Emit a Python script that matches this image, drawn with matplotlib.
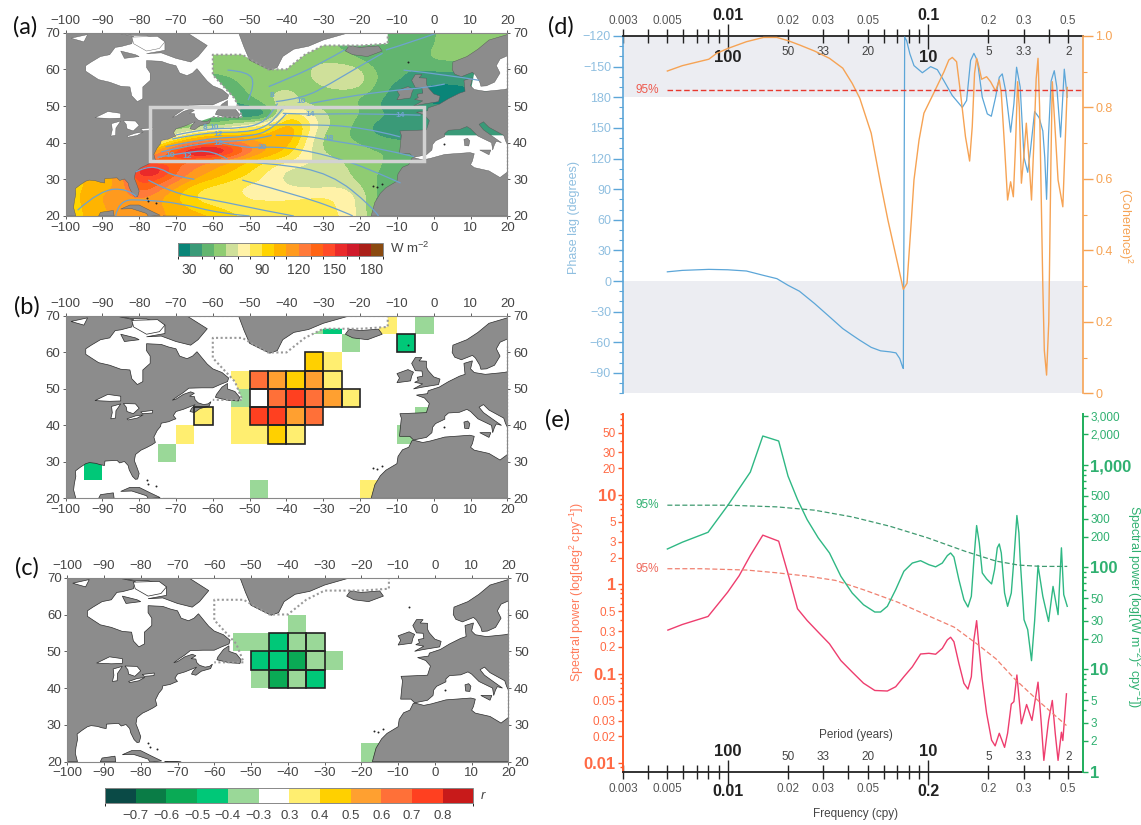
import numpy as np
import matplotlib
matplotlib.use("Agg")
import matplotlib.pyplot as plt
from matplotlib.cm import ScalarMappable
from matplotlib.colors import BoundaryNorm, ListedColormap
from matplotlib.patches import PathPatch, Polygon, Rectangle
from matplotlib.path import Path
from matplotlib.ticker import FixedFormatter, FixedLocator, NullFormatter

plt.rcParams["font.family"] = ["Liberation Sans", "DejaVu Sans"]
plt.rcParams["mathtext.default"] = "regular"

W, H = 1141, 825
LAND = "#8c8c8c"

# ---- map outlines (lon, lat) ----
NORTH_AMERICA = [(-100, 20), (-97.2, 20), (-97.8, 22.3), (-97.6, 24), (-97.2, 26), (-97.3, 27.5), (-96, 28.5),
                 (-94.5, 29.5), (-93.5, 29.8), (-91.8, 29.6), (-90.5, 29.2), (-89.4, 29), (-89.3, 30.2), (-88, 30.3),
                 (-86, 30.4), (-85.3, 29.7), (-84, 30.1), (-83, 29), (-82.7, 27.8), (-81.8, 26), (-81, 25.2),
                 (-80.4, 25.3), (-80, 26.8), (-80.6, 28.5), (-81.3, 30.3), (-81, 32), (-79.5, 33.2), (-78, 33.9),
                 (-76.5, 34.7), (-75.6, 35.3), (-76, 36.8), (-75.5, 37.8), (-75.1, 38.6), (-74.2, 39.7), (-74, 40.6),
                 (-72, 41), (-70.6, 41.6), (-70, 41.8), (-70.7, 42.7), (-70, 43.8), (-68, 44.4), (-67, 44.8),
                 (-66, 45.2), (-64.8, 45.7), (-65.8, 44.6), (-66.2, 43.8), (-65, 43.5), (-63.5, 44.6), (-61, 45.3),
                 (-60.5, 46.5), (-61.3, 45.9), (-62.5, 45.7), (-64, 46.2), (-64.8, 47), (-65, 47.9), (-66.3, 48),
                 (-65, 48.8), (-66, 49.2), (-68, 48.5), (-70, 47.2), (-71, 46.9), (-69.5, 48), (-68, 49),
                 (-66.5, 50.2), (-63, 50.3), (-60, 50.3), (-58, 51.2), (-56, 52), (-55.7, 53), (-57.5, 54.5),
                 (-60, 55.5), (-61.5, 56.8), (-62.5, 58), (-64.3, 60.2), (-65.5, 59), (-67, 58.3), (-69, 59), (-70, 61),
                 (-72, 61.5), (-74, 62.2), (-78, 62.4), (-78, 60.5), (-77, 59), (-77, 57), (-79, 55.2), (-79, 52),
                 (-80.5, 51.2), (-82, 52.8), (-82.5, 55.2), (-85, 55.4), (-88, 56.5), (-91, 57.2), (-93, 58.5),
                 (-94.5, 59.5), (-94.5, 61), (-93, 62), (-90.5, 63.5), (-88, 64), (-86.5, 66), (-85, 66.2), (-82, 67),
                 (-81.5, 69), (-85, 69.7), (-86, 70), (-100, 70)]
BAFFIN = [(-86, 70), (-67, 70), (-61.5, 66.5), (-64, 63.5), (-66, 62), (-70, 63), (-74, 64.5), (-78, 64.3), (-73, 65.2),
          (-73, 67.5), (-78, 69.2), (-82, 69.3)]
SOUTHAMPTON = [(-85, 65), (-81, 64), (-80, 63.5), (-84, 63)]
NEWFOUNDLAND = [(-59.3, 47.7), (-56, 46.9), (-53, 46.7), (-52.7, 47.7), (-54, 49.3), (-56, 50), (-56, 51.5),
                (-57.5, 50.5), (-59, 48.5)]
GREENLAND = [(-53, 70), (-51.5, 66), (-50, 62.5), (-47, 61), (-44.5, 59.8), (-42.5, 60.5), (-41, 63.5), (-38, 65.5),
             (-34, 66.3), (-30, 68), (-23, 70)]
ICELAND = [(-24, 65), (-22, 64), (-18, 63.5), (-14, 65), (-15, 66.4), (-20, 66), (-23, 66.4)]
IRELAND = [(-10, 51.7), (-6.3, 52.2), (-6, 53.5), (-5.5, 54.6), (-7, 55.3), (-10, 54.2), (-9.3, 53)]
BRITAIN = [(-5.5, 50), (-3, 50.5), (1.3, 51.2), (1.7, 52.7), (0, 53.3), (-1.5, 55), (-2, 56), (-2, 57.6), (-4, 57.7),
           (-3.2, 58.6), (-5, 58.6), (-6, 57), (-5, 55), (-3.2, 54.9), (-3, 53.5), (-4.5, 53.2), (-4.2, 52.3),
           (-5.2, 51.8), (-3, 51.4)]
EUROPE = [(-9.3, 37), (-8.8, 42), (-9.2, 43.2), (-2, 43.5), (-1.2, 46), (-2.5, 47.5), (-4.7, 48.3), (-1.7, 48.7),
          (-1.5, 49.5), (1.5, 50.5), (4, 52), (7, 53.5), (8.5, 54), (8.2, 57), (10.5, 57.7), (10, 55.5), (11, 54.5),
          (14, 54), (19, 54.5), (20, 54.7), (20, 39.5), (19.5, 40.5), (19, 42), (15, 44.2), (13.5, 45.7), (12.3, 45),
          (13.5, 43.5), (16, 41.7), (18.4, 40), (17, 40.4), (16.5, 39.5), (16, 38), (15.7, 40), (12, 41.8), (10, 43.8),
          (9, 44.4), (7, 43.6), (4, 43.4), (3, 42.5), (3, 41.7), (0.5, 40.5), (-0.3, 39.5), (-0.5, 38), (-2, 36.7),
          (-5.5, 36), (-6.5, 37)]
SCANDINAVIA = [(20, 69.5), (15, 68), (12, 65.5), (9, 63.5), (5.2, 62), (5, 60), (5.7, 58.7), (7.5, 58), (10.5, 59.2),
               (11.3, 58.5), (12.5, 56.5), (12.8, 55.4), (14.3, 55.5), (16.5, 56.5), (18, 59), (17, 61), (18, 62.8),
               (20, 63.7)]
AFRICA = [(-17, 20), (-16, 23.7), (-14.5, 26.2), (-13, 27.7), (-10, 29.5), (-9.7, 31.5), (-8.5, 33.3), (-6.8, 34),
          (-5.9, 35.8), (-5.3, 35.9), (-3, 35.3), (-1, 35.7), (3, 36.8), (9.8, 37.3), (11, 37), (10.5, 35), (10, 34),
          (11, 33.2), (15, 32.3), (18, 30.5), (20, 32), (20, 20)]
CUBA = [(-85, 21.9), (-82.5, 23), (-80, 23), (-77, 21.5), (-74.3, 20.2), (-77.5, 19.9), (-78, 20.7), (-82, 22)]
YUCATAN = [(-91, 20), (-90.5, 21), (-87, 21.5), (-86.8, 20)]
HISPANIOLA = [(-73.5, 20), (-72.5, 19.9), (-69, 19.9), (-70, 20)]
SARDINIA = [(8.4, 39.2), (9.5, 39.1), (9.8, 40.5), (9.2, 41.2), (8.2, 40.9)]
SICILY = [(12.5, 38), (15.5, 38), (15, 36.7)]
LAND_SHAPES = [NORTH_AMERICA, BAFFIN, SOUTHAMPTON, NEWFOUNDLAND, GREENLAND, ICELAND, IRELAND, BRITAIN, EUROPE,
               SCANDINAVIA, AFRICA, CUBA, YUCATAN, HISPANIOLA, SARDINIA, SICILY]
LAKES = [[(-92, 46.8), (-88.5, 48.5), (-85, 48), (-85, 46.7), (-88, 46.6), (-90, 46.7)],
         [(-87.7, 41.8), (-87.3, 43.5), (-87.5, 45.2), (-85, 45.9), (-86.3, 44), (-86.4, 42)],
         [(-84.3, 46), (-81, 45.9), (-80, 44.7), (-81.6, 43.2), (-83.3, 43.8), (-83.5, 45)],
         [(-83.3, 41.8), (-81, 42.6), (-78.9, 42.9), (-80.5, 42), (-83, 41.5)],
         [(-79.6, 43.7), (-76.3, 44.1), (-76.4, 43.4), (-79, 43.2)],
         [(-98.5, 68.5), (-94, 69.5), (-95, 67.5)],
         [(-82, 68.8), (-75, 69), (-73, 67.5), (-74.5, 65.7), (-78, 65), (-81.5, 67)]]
NO_DATA = [[(-100, 70), (-12.5, 70), (-12.5, 67), (-20, 66.5), (-30, 66.5), (-35, 64), (-40, 60), (-45, 60), (-52, 64),
            (-60, 64), (-60, 58.5), (-54, 52), (-52, 47), (-60, 47), (-66, 45), (-100, 45)],
           [(-5.5, 35.5), (-5.5, 36.5), (0, 42), (20, 42), (20, 30), (0, 30)],
           [(10, 54), (20, 54), (20, 66), (14, 62), (11, 59)]]
DOTTED = [(-65, 70), (-12.5, 70), (-12.5, 67), (-20, 66.5), (-30, 66.5), (-35, 64), (-40, 60), (-45, 60), (-52, 64),
          (-60, 64), (-60, 58.5), (-54, 52), (-52, 47), (-60, 47)]
ISLET_LON = [-16.5, -15.5, -14, -78, -77.5, -75.5, -7, 2.8]
ISLET_LAT = [28.3, 28, 28.8, 25, 24, 23.5, 62, 39.6]

# ---- panel (a) heat flux grid, W m-2 ----
FIELD_LON = np.arange(-100, 21, 5)
FIELD_LAT = np.arange(20, 70.1, 2.5)
FIELD = np.array([
    [95, 100, 108, 115, 115, 112, 108, 105, 100, 92, 88, 88, 86, 85, 85, 80, 68, 45, 35, 30, 30, 30, 30, 30, 30],
    [95, 100, 110, 114, 114, 112, 106, 95, 90, 86, 84, 84, 84, 84, 84, 78, 68, 45, 35, 30, 30, 30, 30, 30, 30],
    [95, 102, 112, 115, 122, 112, 100, 88, 85, 85, 78, 78, 78, 80, 82, 78, 68, 45, 40, 35, 30, 30, 30, 30, 30],
    [95, 100, 108, 112, 140, 125, 108, 92, 85, 82, 76, 74, 72, 70, 70, 72, 62, 48, 40, 35, 30, 30, 30, 30, 30],
    [95, 100, 105, 112, 150, 140, 125, 110, 100, 92, 85, 76, 67, 64, 63, 63, 58, 48, 42, 36, 30, 30, 30, 30, 30],
    [95, 100, 105, 115, 165, 165, 130, 120, 110, 102, 92, 80, 68, 65, 63, 62, 57, 50, 44, 38, 30, 30, 30, 30, 30],
    [95, 100, 105, 110, 130, 130, 135, 125, 118, 108, 98, 90, 82, 74, 66, 60, 56, 52, 45, 40, 30, 30, 30, 30, 30],
    [95, 95, 95, 100, 110, 115, 155, 176, 178, 155, 125, 110, 98, 75, 58, 54, 52, 50, 50, 48, 40, 30, 30, 30, 30],
    [60, 60, 60, 60, 65, 75, 100, 122, 132, 126, 116, 106, 108, 80, 56, 52, 50, 46, 42, 38, 30, 30, 30, 30, 30],
    [50, 50, 50, 50, 50, 55, 65, 80, 90, 96, 100, 100, 115, 85, 58, 52, 46, 36, 35, 35, 30, 30, 30, 30, 30],
    [50, 50, 50, 50, 50, 50, 50, 50, 50, 58, 72, 82, 105, 90, 62, 55, 46, 36, 34, 32, 30, 30, 30, 30, 30],
    [40, 40, 40, 40, 40, 40, 38, 35, 35, 38, 22, 30, 90, 78, 60, 56, 50, 44, 36, 38, 36, 30, 30, 30, 30],
    [40, 40, 40, 40, 40, 40, 38, 35, 35, 35, 40, 52, 72, 62, 57, 55, 50, 40, 30, 30, 30, 30, 30, 30, 30],
    [45, 45, 45, 45, 45, 45, 45, 45, 45, 45, 50, 58, 70, 52, 52, 52, 50, 42, 36, 32, 28, 27, 30, 35, 35],
    [45, 45, 45, 45, 45, 45, 45, 45, 45, 47, 52, 56, 58, 55, 60, 65, 62, 45, 36, 30, 27, 27, 30, 30, 30],
    [47, 47, 47, 47, 47, 47, 47, 47, 47, 50, 53, 55, 57, 57, 66, 68, 66, 48, 42, 36, 35, 35, 35, 35, 35],
    [53, 53, 53, 53, 53, 53, 53, 53, 53, 53, 53, 52, 55, 58, 65, 66, 62, 46, 42, 40, 42, 42, 42, 42, 42],
    [53, 53, 53, 53, 53, 53, 53, 53, 53, 53, 53, 53, 54, 56, 58, 56, 50, 42, 42, 45, 52, 52, 52, 52, 52],
    [50, 50, 50, 50, 50, 50, 50, 50, 50, 50, 50, 50, 50, 50, 52, 50, 45, 40, 40, 45, 52, 55, 55, 55, 55],
    [50, 50, 50, 50, 50, 50, 50, 50, 50, 50, 50, 50, 50, 50, 50, 50, 45, 40, 40, 42, 50, 55, 55, 55, 55],
    [50, 50, 50, 50, 50, 50, 50, 50, 50, 50, 50, 50, 50, 50, 50, 50, 45, 40, 40, 42, 50, 55, 55, 55, 55],
])
FLUX_LEVELS = np.arange(20, 191, 10)
FLUX_COLORS = ["#0a8578", "#3a9a78", "#62b56f", "#8fcc72", "#cfe09a", "#fff2a8", "#ffe84f", "#ffd400", "#ffb400",
               "#ff9a1e", "#ff7a3a", "#ff6414", "#ff4a28", "#ea2a2a", "#cf1a2a", "#aa1f18", "#8a4a10"]
FLUX_TICKS = [30, 60, 90, 120, 150, 180]

SST_LINES = [
    [(-44.8, 55.3), (-38.2, 58), (-30.7, 61.6), (-24.2, 65.3)],
    [(-42.9, 51.2), (-35.4, 52.1), (-27.9, 56.2), (-20.4, 60.7), (-13.9, 64.4)],
    [(-33.5, 50.7), (-24.2, 52.5), (-10, 54.4), (-2, 55), (3, 56)],
    [(-41, 48), (-33.5, 47.7), (-19.5, 48), (-3.6, 47.5)],
    [(-44.8, 44.8), (-36.3, 45), (-19.5, 44.4), (-9.2, 41.6)],
    [(-42.9, 42), (-35.4, 42), (-28.8, 40.7), (-14.8, 38.5), (-5.4, 36.2)],
    [(-57.9, 40), (-50.4, 38.5), (-46.6, 38.9), (-37.3, 38.5), (-24.2, 35.3), (-14.8, 31.6), (-9, 29)],
    [(-59.7, 35.3), (-42.9, 34.4), (-27.9, 31.6), (-16.7, 22.5), (-15, 20)],
    [(-52, 29.8), (-35.4, 25.3), (-23.2, 20.7), (-22, 20)],
    [(-77.5, 29.8), (-71, 26.2), (-59.7, 24.4), (-46.6, 21.6), (-38, 20)],
    [(-96.7, 21.6), (-90.6, 27.1), (-83, 27.5), (-80.8, 25.3)],
    [(-86.4, 20), (-85.5, 24.4), (-78.5, 24.4), (-69, 23.5), (-57.9, 20.7), (-50, 20)],
    [(-56, 59.8), (-50.4, 59.4), (-48.5, 56), (-50.4, 51.6)],
    [(-13, 65.3), (-7.3, 67), (1.1, 70)],
    [(-8.2, 59.8), (3.9, 58.5), (12.4, 57)],
    [(-70, 42.1), (-61.6, 43.9), (-52.2, 43.9), (-46.6, 45.3), (-43.8, 48.5), (-42.4, 50.7)],
    [(-71, 41), (-61.6, 42.9), (-51, 42.8), (-45.3, 44.4), (-42, 48), (-40.5, 50)],
    [(-72.8, 38.9), (-61.6, 41.2), (-50.4, 41.6), (-43.8, 43.5), (-40, 48)],
    [(-74, 37.5), (-62, 40.3), (-50, 40.5), (-44, 42)],
    [(-75, 36), (-68, 37.3), (-60, 38), (-56, 35.5)],
    [(-81, 32), (-78, 33.5), (-74, 33), (-71, 31), (-65, 30)],
]
SST_LABELS = [("8", -44, 52.8), ("10", -36, 51.2), ("14", -33.5, 47.6), ("14", -9, 47.4), ("18", -28.5, 41.1),
              ("20", -46.5, 38.6), ("8", -62, 44.2), ("10", -59.6, 44.2), ("12", -58.5, 42.1), ("12", -58.5, 39.8),
              ("10", -71.5, 36.5), ("12", -67, 36.2)]
BOX_LON = [-77, -2.6]
BOX_LAT = [35.1, 49.8]

# ---- panels (b) and (c), 5 degree correlation cells: lon, lat, r, outlined ----
R_LEVELS = [-0.8, -0.7, -0.6, -0.5, -0.4, -0.3, 0.3, 0.4, 0.5, 0.6, 0.7, 0.8, 0.9]
R_COLORS = ["#0a4a46", "#0a7c46", "#0aaa55", "#00c878", "#9ad898", "#ffffff", "#ffee70", "#ffd000", "#ffa030",
            "#ff7038", "#ff4020", "#c81a1a"]
R_TICKS = [-0.7, -0.6, -0.5, -0.4, -0.3, 0.3, 0.4, 0.5, 0.6, 0.7, 0.8]
CELLS_B = [(-95, 25, -0.45, 0), (-75, 30, -0.35, 0), (-70, 35, 0.35, 0), (-65, 40, 0.35, 1), (-55, 50, 0.35, 0),
           (-55, 45, -0.35, 0), (-55, 40, 0.35, 0), (-55, 35, 0.35, 0), (-50, 35, 0.35, 0), (-50, 50, 0.65, 1),
           (-45, 50, 0.55, 1), (-40, 50, 0.45, 1), (-35, 50, 0.55, 1), (-30, 50, 0.35, 1), (-50, 45, 0.2, 1),
           (-45, 45, 0.65, 1), (-40, 45, 0.75, 1), (-35, 45, 0.65, 1), (-30, 45, 0.55, 1), (-25, 45, 0.35, 1),
           (-50, 40, 0.75, 1), (-45, 40, 0.75, 1), (-40, 40, 0.55, 1), (-35, 40, 0.65, 1), (-45, 35, 0.45, 1),
           (-40, 35, 0.35, 1), (-35, 55, 0.45, 1), (-30, 55, 0.35, 0), (-25, 60, -0.35, 0), (-35, 65, -0.35, 0),
           (-30, 65, -0.45, 0), (-15, 65, 0.35, 0), (-5, 65, -0.35, 0), (-10, 60, -0.45, 1), (-5, 40, -0.35, 0),
           (-10, 35, -0.35, 0), (-50, 20, -0.35, 0), (-20, 20, 0.35, 0)]
CELLS_C = [(-40, 55, -0.35, 0), (-55, 50, -0.35, 0), (-50, 50, -0.35, 0), (-45, 50, -0.45, 1), (-40, 50, -0.35, 1),
           (-35, 50, -0.35, 1), (-50, 45, -0.45, 1), (-45, 45, -0.45, 1), (-40, 45, -0.55, 1), (-35, 45, -0.35, 1),
           (-30, 45, -0.35, 0), (-50, 40, -0.35, 0), (-45, 40, -0.55, 1), (-40, 40, -0.35, 1), (-35, 40, -0.45, 1),
           (-20, 20, -0.35, 0)]

# ---- panel (d) ----
PHASE_F = [0.005, 0.00594, 0.00805, 0.01, 0.0124, 0.0151, 0.0176, 0.02, 0.0228, 0.0271, 0.0322, 0.0375, 0.0418, 0.0456,
           0.052, 0.0579, 0.0645, 0.0691, 0.0722, 0.0745, 0.0752, 0.0758, 0.0764, 0.0781, 0.0811, 0.085, 0.0936, 0.1029,
           0.1112, 0.12, 0.132, 0.1481, 0.1556, 0.1629, 0.1692, 0.176, 0.1863, 0.1974, 0.2067, 0.2171, 0.2265, 0.2344,
           0.2435, 0.258, 0.2679, 0.2763, 0.288, 0.301, 0.314, 0.324, 0.34, 0.358, 0.3735, 0.382, 0.39, 0.399, 0.411,
           0.426, 0.4387, 0.458, 0.478, 0.4945]
PHASE = [9, 10.4, 11.4, 11, 9.8, 5.5, 2.3, -4.2, -10, -22, -35, -46.6, -53, -58, -65, -68.4, -69.4, -70.4, -76, -84,
         -85.7, 60, 239, 235.5, 222.5, 211, 204, 210, 207, 196, 181.7, 170, 176.8, 216, 223, 216, 180, 163.7, 161.4,
         180, 199.6, 202.9, 186.6, 145.8, 173.5, 209.4, 190, 121, 106.5, 128, 166, 160, 147, 121, 80, 144, 196, 206,
         190, 141, 207.5, 180]
COH_F = [0.005, 0.00594, 0.00805, 0.00878, 0.01, 0.0124, 0.0151, 0.0176, 0.02, 0.0228, 0.0271, 0.0322, 0.0375, 0.0418,
         0.0456, 0.052, 0.0579, 0.063, 0.0704, 0.0752, 0.0785, 0.0825, 0.085, 0.0901, 0.0953, 0.1066, 0.12, 0.1269,
         0.132, 0.1387, 0.1451, 0.1536, 0.1611, 0.166, 0.1705, 0.1746, 0.1792, 0.1849, 0.1958, 0.2049, 0.2171, 0.2265,
         0.2318, 0.2407, 0.2492, 0.258, 0.2662, 0.2728, 0.2795, 0.285, 0.292, 0.3, 0.309, 0.318, 0.328, 0.337, 0.346,
         0.3535, 0.36, 0.3735, 0.38, 0.39, 0.4, 0.41, 0.4165, 0.43, 0.445, 0.47, 0.4945]
COH = [0.902, 0.917, 0.935, 0.951, 0.965, 0.984, 0.996, 0.996, 0.987, 0.975, 0.958, 0.9375, 0.91, 0.8675, 0.826, 0.728,
       0.588, 0.485, 0.364, 0.291, 0.308, 0.485, 0.597, 0.709, 0.784, 0.84, 0.9, 0.933, 0.94, 0.928, 0.84, 0.718, 0.65,
       0.746, 0.896, 0.9375, 0.914, 0.879, 0.886, 0.872, 0.846, 0.877, 0.84, 0.69, 0.541, 0.592, 0.55, 0.69, 0.872, 0.8,
       0.588, 0.66, 0.756, 0.66, 0.541, 0.7, 0.88, 0.9375, 0.8, 0.3, 0.12, 0.051, 0.2, 0.65, 0.872, 0.74, 0.597, 0.522,
       0.856]
COH_95 = 0.85
FREQ_TICKS = [0.003, 0.004, 0.005, 0.006, 0.007, 0.008, 0.009, 0.01, 0.02, 0.03, 0.04, 0.05, 0.06, 0.07, 0.08, 0.09,
              0.1, 0.2, 0.3, 0.4, 0.5, 0.6]
FREQ_SHOWN = [0.003, 0.005, 0.01, 0.02, 0.03, 0.05, 0.1, 0.2, 0.3, 0.5]
FREQ_LABELS_D = ["0.003", "0.005", "0.01", "0.02", "0.03", "0.05", "0.1", "0.2", "0.3", "0.5"]
FREQ_LABELS_E = ["0.003", "0.005", "0.01", "0.02", "0.03", "0.05", "0.2", "0.2", "0.3", "0.5"]
PERIOD_F = [0.01, 0.02, 0.03, 0.05, 0.1, 0.2, 0.3, 0.5]
PERIOD_LABELS = ["100", "50", "33", "20", "10", "5", "3.3", "2"]

# ---- panel (e) ----
RED_F = [0.00503, 0.00594, 0.00798, 0.01, 0.0114, 0.01297, 0.01497, 0.01796, 0.02, 0.0223, 0.0249, 0.0283, 0.0322,
         0.0367, 0.0418, 0.0476, 0.0542, 0.0579, 0.0626, 0.0689, 0.0757, 0.0834, 0.0917, 0.1009, 0.109, 0.1177, 0.1247,
         0.1295, 0.1345, 0.1424, 0.1509, 0.158, 0.1643, 0.1692, 0.1746, 0.18, 0.1863, 0.1958, 0.2073, 0.216, 0.2265,
         0.2407, 0.2492, 0.26, 0.2679, 0.2773, 0.2838, 0.292, 0.31, 0.3297, 0.3535, 0.366, 0.378, 0.399, 0.4165, 0.431,
         0.445, 0.4625, 0.47, 0.49]
RED = [0.309, 0.357, 0.439, 0.821, 1.25, 2.11, 3.56, 3.05, 1.32, 0.535, 0.396, 0.293, 0.217, 0.141, 0.105, 0.0788,
       0.0653, 0.0649, 0.0644, 0.0719, 0.0931, 0.12, 0.167, 0.17, 0.166, 0.193, 0.24, 0.257, 0.229, 0.131, 0.0785,
       0.0677, 0.0931, 0.24, 0.394, 0.185, 0.0855, 0.0363, 0.0182, 0.0157, 0.0217, 0.0151, 0.0217, 0.046, 0.049, 0.0973,
       0.0556, 0.0277, 0.0455, 0.0302, 0.0809, 0.0302, 0.0108, 0.0302, 0.0505, 0.0214, 0.0108, 0.0223, 0.018, 0.0599]
RED_95_F = [0.005, 0.00735, 0.01, 0.0124, 0.0176, 0.0249, 0.0345, 0.0488, 0.0704, 0.0995, 0.135, 0.175, 0.218, 0.27,
            0.353, 0.49]
RED_95 = [1.5, 1.5, 1.47, 1.45, 1.35, 1.24, 1.11, 0.857, 0.635, 0.45, 0.333, 0.217, 0.1475, 0.0881, 0.0505, 0.0265]
GREEN_F = [0.005, 0.00594, 0.00798, 0.01, 0.01297, 0.01497, 0.01796, 0.02, 0.0223, 0.0249, 0.0283, 0.0322, 0.0367,
           0.0418, 0.0476, 0.0542, 0.0579, 0.0626, 0.0689, 0.0757, 0.0834, 0.0917, 0.1009, 0.109, 0.1177, 0.1247,
           0.1295, 0.1345, 0.1424, 0.1509, 0.158, 0.1643, 0.1692, 0.1746, 0.18, 0.1863, 0.1958, 0.2073, 0.2146, 0.2214,
           0.2265, 0.2318, 0.2407, 0.2492, 0.26, 0.2679, 0.2773, 0.2838, 0.288, 0.301, 0.314, 0.328, 0.34, 0.3535, 0.3735,
           0.399, 0.42, 0.445, 0.4625, 0.475, 0.4945]
GREEN = [151, 176, 220, 402, 854, 1925, 1720, 780, 460, 293, 194, 138, 81.6, 56, 43, 36.5, 36.5, 41.5, 60.4, 91.4, 110,
         116, 106, 101, 110, 130, 138, 126, 75.7, 48.2, 40.9, 52, 119, 256, 173, 88, 76.9, 68.7, 94.9, 155, 169, 138, 56,
         41.5, 56, 119, 321, 217, 119, 30.7, 24.5, 12.2, 30, 104, 52, 29.5, 65, 34.4, 155, 54, 41.5]
GREEN_95_F = [0.005, 0.01, 0.0176, 0.0271, 0.0418, 0.0645, 0.0995, 0.1536, 0.218, 0.283, 0.366, 0.4945]
GREEN_95 = [405, 405, 390, 362, 311, 252, 194, 143, 115, 105, 102, 102]
LEFT_TICKS = [50, 30, 20, 10, 5, 3, 2, 1, 0.5, 0.3, 0.2, 0.1, 0.05, 0.03, 0.02, 0.01]
LEFT_LABELS = ["50", "30", "20", "10", "5", "3", "2", "1", "0.5", "0.3", "0.2", "0.1", "0.05", "0.03", "0.02", "0.01"]
RIGHT_TICKS = [3000, 2000, 1000, 500, 300, 200, 100, 50, 30, 20, 10, 5, 3, 2, 1]
RIGHT_LABELS = ["3,000", "2,000", "1,000", "500", "300", "200", "100", "50", "30", "20", "10", "5", "3", "2", "1"]
PHASE_TICKS = list(range(-90, 241, 30))
PHASE_LABELS = ["\u221290", "\u221260", "\u221230", "0", "30", "60", "90", "120", "150", "180", "\u2212150", "\u2212120"]

TICK_GRAY = "#444444"
BLUE = "#5ca6d8"
BLUE_TEXT = "#8fbfe0"
ORANGE = "#f6a354"
RED_AXIS = "#ff5a2a"
GREEN_AXIS = "#1fae5c"


def px_axes(fig, x0, y0, x1, y1):
    return fig.add_axes([x0 / W, 1 - y1 / H, (x1 - x0) / W, (y1 - y0) / H])


def draw_land(ax, edge, lw):
    for shape in LAND_SHAPES:
        ax.add_patch(Polygon(shape, closed=True, facecolor=LAND, edgecolor=edge, linewidth=lw, zorder=4))
    for lake in LAKES:
        ax.add_patch(Polygon(lake, closed=True, facecolor="white", edgecolor=edge, linewidth=lw, zorder=5))
    ax.scatter(ISLET_LON, ISLET_LAT, s=2, color="#222222", linewidths=0, zorder=7.5)


def draw_no_data(ax):
    for shape in NO_DATA:
        ax.add_patch(Polygon(shape, closed=True, facecolor="white", edgecolor="none", zorder=3))


def draw_sst_line(ax, line):
    # quadratic segments through the midpoints keep the isotherms round
    verts = [line[0]]
    codes = [Path.MOVETO]
    for i in range(1, len(line) - 1):
        end = line[i + 1] if i == len(line) - 2 else ((line[i][0] + line[i + 1][0]) / 2, (line[i][1] + line[i + 1][1]) / 2)
        verts += [line[i], end]
        codes += [Path.CURVE3, Path.CURVE3]
    ax.add_patch(PathPatch(Path(verts, codes), facecolor="none", edgecolor="#6ea3cf", linewidth=0.9, zorder=6))


def style_map(ax):
    ax.set_xlim(-100, 20)
    ax.set_ylim(20, 70)
    ax.set_xticks(np.arange(-100, 21, 10))
    ax.set_yticks(np.arange(20, 71, 10))
    ax.tick_params(top=True, right=True, labeltop=True, labelright=True, labelsize=9.5, length=2.5, width=0.6,
                   colors=TICK_GRAY, pad=1.5)
    for spine in ax.spines.values():
        spine.set_color("#888888")
        spine.set_linewidth(0.8)
        spine.set_zorder(8)
    ax.plot([p[0] for p in DOTTED], [p[1] for p in DOTTED], color="#9a9a9a", linestyle=(0, (1, 1.2)), linewidth=1.5,
            zorder=6)
    ax.plot([20, 20], [30, 62], color="#9a9a9a", linestyle=(0, (1, 1.5)), linewidth=1.0, zorder=6, clip_on=False)


def draw_cells(ax, cells, norm, cmap):
    for lon, lat, r, outlined in cells:
        ax.add_patch(Rectangle((lon, lat), 5, 5, facecolor=cmap(norm(r)), edgecolor="none", zorder=2))
    for lon, lat, r, outlined in cells:
        if outlined:
            ax.add_patch(Rectangle((lon, lat), 5, 5, facecolor="none", edgecolor="#222222", linewidth=1.2, zorder=7))


def style_colorbar(cb, labels, size):
    cb.ax.tick_params(length=0, labelsize=size, colors=TICK_GRAY, pad=5)
    cb.set_ticks(labels[0])
    cb.set_ticklabels(labels[1])
    cb.outline.set_edgecolor("#888888")
    cb.outline.set_linewidth(0.7)


def style_freq_axis(ax):
    ax.set_xscale("log")
    ax.set_xlim(0.003, 0.594)
    ax.xaxis.set_major_locator(FixedLocator(FREQ_TICKS))
    ax.xaxis.set_major_formatter(NullFormatter())
    ax.xaxis.set_minor_locator(FixedLocator([]))
    ax.tick_params(axis="x", which="major", direction="inout", length=10, width=1.0, color="#222222")
    for tick, f in zip(ax.xaxis.get_major_ticks(), FREQ_TICKS):
        size = 18 if f in (0.01, 0.1) else 10
        tick.tick1line.set_markersize(size)
        tick.tick2line.set_markersize(size)


def period_labels(ax, y_big, y_small):
    for f, text in zip(PERIOD_F, PERIOD_LABELS):
        big = text in ("100", "10")
        y = y_big if big else y_small
        ax.text(f, y, text, transform=ax.get_xaxis_transform(), ha="center", va="center",
                fontsize=12 if big else 8.5, color="#222222" if big else "#444444", zorder=9,
                fontweight="bold" if big else "normal")


def freq_labels(ax, labels, y_big, y_small):
    for f, text in zip(FREQ_SHOWN, labels):
        big = f in (0.01, 0.1)
        ax.text(f, y_big if big else y_small, text, transform=ax.get_xaxis_transform(), ha="center", va="center",
                clip_on=False, fontsize=11.5 if big else 8.5, color="#222222" if big else "#555555",
                fontweight="bold" if big else "normal")


def log_ticks(axis_obj, ticks, labels, low, high, big_size, small_size):
    axis_obj.set_major_locator(FixedLocator(ticks))
    axis_obj.set_major_formatter(FixedFormatter(labels))
    minor = [m * 10.0 ** e for e in range(int(np.floor(np.log10(low))), int(np.ceil(np.log10(high))))
             for m in range(1, 10)]
    axis_obj.set_minor_locator(FixedLocator([v for v in minor if low <= v <= high and v not in ticks]))
    axis_obj.set_minor_formatter(NullFormatter())
    for tick, value in zip(axis_obj.get_major_ticks(), ticks):
        decade = abs(np.log10(value) - round(np.log10(value))) < 1e-6
        tick.label1.set_fontsize(big_size if decade else small_size)
        tick.label2.set_fontsize(big_size if decade else small_size)
        tick.label1.set_fontweight("bold" if decade else "normal")
        tick.label2.set_fontweight("bold" if decade else "normal")
        tick.tick1line.set_markersize(7 if decade else 4)
        tick.tick2line.set_markersize(7 if decade else 4)


def main():
    fig = plt.figure(figsize=(W / 100, H / 100), dpi=100)

    flux_cmap = ListedColormap(FLUX_COLORS)
    flux_norm = BoundaryNorm(FLUX_LEVELS, flux_cmap.N)
    r_cmap = ListedColormap(R_COLORS)
    r_norm = BoundaryNorm(R_LEVELS, r_cmap.N)

    # (a)
    ax_a = px_axes(fig, 65.5, 32.7, 507.4, 216)
    ax_a.imshow(FIELD, origin="lower", aspect="auto", cmap=flux_cmap, norm=flux_norm, interpolation="bicubic",
                interpolation_stage="data",
                extent=[FIELD_LON[0] - 2.5, FIELD_LON[-1] + 2.5, FIELD_LAT[0] - 1.25, FIELD_LAT[-1] + 1.25], zorder=1)
    draw_no_data(ax_a)
    draw_land(ax_a, "#555555", 0.3)
    for line in SST_LINES:
        draw_sst_line(ax_a, line)
    for text, lon, lat in SST_LABELS:
        ax_a.text(lon, lat, text, color="#6ea3cf", fontsize=6, ha="center", va="center", zorder=6.5,
                  fontweight="bold")
    ax_a.add_patch(Rectangle((BOX_LON[0], BOX_LAT[0]), BOX_LON[1] - BOX_LON[0], BOX_LAT[1] - BOX_LAT[0],
                             facecolor="none", edgecolor="#d2d2d2", linewidth=2.5, zorder=7))
    style_map(ax_a)
    cax_a = px_axes(fig, 177.5, 242.7, 383.3, 255.7)
    cb_a = fig.colorbar(ScalarMappable(norm=flux_norm, cmap=flux_cmap), cax=cax_a, orientation="horizontal")
    style_colorbar(cb_a, (FLUX_TICKS, [str(v) for v in FLUX_TICKS]), 10)
    fig.text(389.5 / W, 1 - 248 / H, "W m$^{-2}$", fontsize=9.5, color=TICK_GRAY, va="center")

    # (b)
    ax_b = px_axes(fig, 65.5, 316, 507.4, 498.3)
    draw_cells(ax_b, CELLS_B, r_norm, r_cmap)
    draw_no_data(ax_b)
    draw_land(ax_b, "#2a2a2a", 0.5)
    style_map(ax_b)

    # (c)
    ax_c = px_axes(fig, 67.2, 577.7, 508.4, 761.7)
    draw_cells(ax_c, CELLS_C, r_norm, r_cmap)
    draw_land(ax_c, "#2a2a2a", 0.5)
    style_map(ax_c)
    cax_c = px_axes(fig, 105.1, 787.7, 473.3, 803.3)
    cb_c = fig.colorbar(ScalarMappable(norm=r_norm, cmap=r_cmap), cax=cax_c, orientation="horizontal",
                        spacing="uniform", boundaries=R_LEVELS)
    style_colorbar(cb_c, (R_TICKS, [f"{v:.1f}".replace("-", "\u2212") for v in R_TICKS]), 9.5)
    fig.text(481 / W, 1 - 796 / H, "r", fontsize=9.5, color=TICK_GRAY, va="center", style="italic")

    # (d)
    ax_d = px_axes(fig, 622.9, 36, 1083.2, 393.3)
    style_freq_axis(ax_d)
    ax_d.xaxis.tick_top()
    ax_d.spines["top"].set_linewidth(1.3)
    ax_d.spines["top"].set_color("#222222")
    ax_d.set_ylim(-110, 240)
    ax_d.axhspan(-110, 0, color="#ecedf2", linewidth=0, zorder=0)
    ax_d.axhspan(180, 240, color="#ecedf2", linewidth=0, zorder=0)
    ax_d.plot(PHASE_F, PHASE, color=BLUE, linewidth=0.9, zorder=3)
    ax_d.yaxis.set_major_locator(FixedLocator(PHASE_TICKS))
    ax_d.yaxis.set_major_formatter(FixedFormatter(PHASE_LABELS))
    ax_d.yaxis.set_minor_locator(FixedLocator(np.arange(-110, 241, 10)))
    ax_d.tick_params(axis="y", which="major", length=7, width=1.0, color=BLUE, labelcolor=BLUE_TEXT, labelsize=9, pad=1.5)
    ax_d.tick_params(axis="y", which="minor", length=3, width=0.8, color=BLUE)
    ax_d.spines["left"].set_color(BLUE)
    ax_d.spines["left"].set_linewidth(1.2)
    ax_d.spines["right"].set_visible(False)
    ax_d.spines["bottom"].set_visible(False)
    ax_d.set_ylabel("Phase lag (degrees)", color=BLUE_TEXT, fontsize=9, va="center")
    ax_d.yaxis.set_label_coords((574.5 - 622.9) / 460.3, (393.3 - 217) / 357.3)
    period_labels(ax_d, 0.94, 0.956)
    freq_labels(ax_d, FREQ_LABELS_D, 1.056, 1.043)

    tw_d = ax_d.twinx()
    tw_d.set_ylim(0, 1)
    tw_d.plot(COH_F, COH, color=ORANGE, linewidth=1.0, zorder=4)
    tw_d.plot([0.005, 0.594], [COH_95, COH_95], color="#e8382e", linewidth=1.0, linestyle=(0, (4, 2)), zorder=5)
    tw_d.text(0.00398, COH_95, "95%", color="#ee5a4e", fontsize=8.5, ha="center", va="center")
    tw_d.set_yticks([0, 0.2, 0.4, 0.6, 0.8, 1.0], ["0", "0.2", "0.4", "0.6", "0.8", "1.0"])
    tw_d.yaxis.set_minor_locator(FixedLocator([0.1, 0.3, 0.5, 0.7, 0.9]))
    tw_d.tick_params(axis="y", which="major", length=7, width=1.0, color=ORANGE, labelcolor=ORANGE, labelsize=9, pad=1.5)
    tw_d.tick_params(axis="y", which="minor", length=3, width=0.8, color=ORANGE)
    tw_d.spines["right"].set_color(ORANGE)
    tw_d.spines["right"].set_linewidth(1.2)
    for name in ("left", "top", "bottom"):
        tw_d.spines[name].set_visible(False)
    tw_d.set_ylabel("(Coherence)$^{2}$", color=ORANGE, fontsize=9, rotation=270, va="center")
    tw_d.yaxis.set_label_coords((1124.7 - 622.9) / 460.3, (393.3 - 226) / 357.3)

    # (e)
    ax_e = px_axes(fig, 622.9, 414, 1083.2, 771.7)
    style_freq_axis(ax_e)
    ax_e.spines["bottom"].set_linewidth(1.3)
    ax_e.spines["bottom"].set_color("#222222")
    ax_e.set_yscale("log")
    ax_e.set_ylim(0.00807, 80.5)
    ax_e.plot(RED_F, RED, color="#ee3d6e", linewidth=1.0, zorder=3)
    ax_e.plot(RED_95_F, RED_95, color="#f08070", linewidth=0.9, linestyle=(0, (4, 2)), zorder=3)
    ax_e.text(0.00398, 1.5, "95%", color="#ee6a5e", fontsize=8.5, ha="center", va="center")
    log_ticks(ax_e.yaxis, LEFT_TICKS, LEFT_LABELS, 0.00807, 80.5, 12, 8.5)
    ax_e.tick_params(axis="y", which="both", color=RED_AXIS, labelcolor="#ff6a45", pad=1.5, width=1.0)
    ax_e.tick_params(axis="y", which="minor", length=2.5)
    ax_e.spines["left"].set_color(RED_AXIS)
    ax_e.spines["left"].set_linewidth(1.4)
    ax_e.spines["right"].set_visible(False)
    ax_e.spines["top"].set_visible(False)
    ax_e.set_ylabel("Spectral power (log[deg$^{2}$ cpy$^{-1}$])", color="#ff7a5a", fontsize=9, va="center")
    ax_e.yaxis.set_label_coords((577 - 622.9) / 460.3, (771.7 - 592) / 357.7)
    period_labels(ax_e, 0.056, 0.04)
    freq_labels(ax_e, FREQ_LABELS_E, -0.054, -0.047)
    ax_e.text(0.506, 0.103, "Period (years)", transform=ax_e.transAxes, ha="center", va="center", fontsize=8.5,
              color="#444444")
    ax_e.text(0.506, -0.117, "Frequency (cpy)", transform=ax_e.transAxes, ha="center", va="center", fontsize=8.5,
              color="#444444", clip_on=False)

    tw_e = ax_e.twinx()
    tw_e.set_yscale("log")
    tw_e.set_ylim(1, 3160)
    tw_e.plot(GREEN_F, GREEN, color="#2fb884", linewidth=1.0, zorder=4)
    tw_e.plot(GREEN_95_F, GREEN_95, color="#3f9a70", linewidth=0.9, linestyle=(0, (4, 2)), zorder=4)
    tw_e.text(0.00398, 405, "95%", color="#2fb070", fontsize=8.5, ha="center", va="center")
    log_ticks(tw_e.yaxis, RIGHT_TICKS, RIGHT_LABELS, 1, 3160, 12, 8.5)
    tw_e.tick_params(axis="y", which="both", color=GREEN_AXIS, labelcolor="#2fb070", pad=1.5, width=1.0)
    tw_e.tick_params(axis="y", which="minor", length=2.5)
    tw_e.spines["right"].set_color(GREEN_AXIS)
    tw_e.spines["right"].set_linewidth(1.4)
    for name in ("left", "top", "bottom"):
        tw_e.spines[name].set_visible(False)
    tw_e.set_ylabel("Spectral power (log[(W m$^{-2}$)$^{2}$ cpy$^{-1}$])", color="#2fb070", fontsize=9, rotation=270,
                    va="center")
    tw_e.yaxis.set_label_coords((1134 - 622.9) / 460.3, (771.7 - 607) / 357.7)

    # panel letters
    for text, x, y in [("(a)", 25, 27), ("(b)", 27, 307), ("(c)", 27, 568), ("(d)", 561, 27), ("(e)", 558, 420)]:
        fig.text(x / W, 1 - y / H, text, fontsize=17, family=["Lato", "DejaVu Sans"], ha="center", va="center",
                 color="#111111")

    fig.savefig("out.png", dpi=100)


if __name__ == "__main__":
    main()
